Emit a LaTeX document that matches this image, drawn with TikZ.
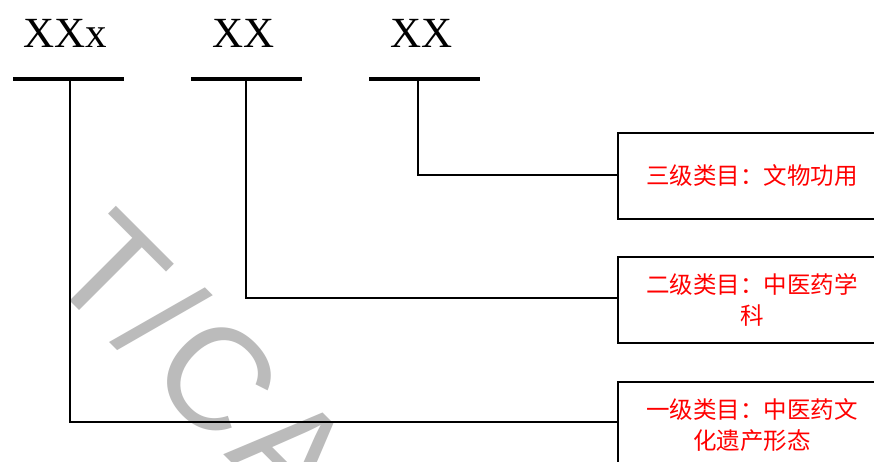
\documentclass[tikz,border=0pt]{standalone}
\usepackage{fontspec}
\setmainfont{Liberation Serif}
\newfontfamily\cjk{Noto Sans CJK SC}
\newfontfamily\wmfont[LetterSpace=5]{Liberation Sans}
\definecolor{wmgray}{RGB}{187,187,187}
\definecolor{txtred}{RGB}{255,0,0}
\tikzset{
  wm/.style={text=wmgray, inner sep=0pt, font=\wmfont\fontsize{145}{145}\selectfont},
  toplabel/.style={inner sep=0pt, anchor=base west, font=\fontsize{43}{43}\selectfont},
  barnode/.style={fill=black, draw=none, inner sep=0pt, minimum width=111pt, minimum height=4pt},
  catbox/.style={draw=black, line width=2pt, minimum width=268pt, minimum height=86pt, inner sep=0pt,
    align=center, text=txtred, font=\cjk\fontsize{23.5}{31}\selectfont},
  link/.style={draw=black, line width=2pt}
}
\begin{document}
\begin{tikzpicture}[x=1pt,y=1pt]
\useasboundingbox (0,0) rectangle (874,-461);
\clip (0,0) rectangle (874,-461);
\fill[white] (0,0) rectangle (874,-461);
% watermark
\node[wm, rotate=-45, anchor=base west] (mark) at (43,-274) {T/CAC};
% top labels
\node[toplabel] (l1) at (23,-47) {XXx};
\node[toplabel] (l2) at (212,-47) {XX};
\node[toplabel] (l3) at (390,-47) {XX};
% bars
\node[barnode] (bar1) at (68.5,-79) {};
\node[barnode] (bar2) at (246.5,-79) {};
\node[barnode] (bar3) at (424.5,-79) {};
% boxes
\node[catbox] (b1) at (752,-176) {三级类目：文物功用};
\node[catbox] (b2) at (752,-300) {二级类目：中医药学\\科};
\node[catbox] (b3) at (752,-425) {一级类目：中医药文\\化遗产形态};
% connectors
\draw[link] ([yshift=1pt]b1.west) -| ([xshift=-6.5pt]bar3.south);
\draw[link] ([yshift=2.5pt]b2.west) -| ([xshift=-1pt]bar2.south);
\draw[link] ([yshift=3pt]b3.west) -| ([xshift=1.5pt]bar1.south);
\end{tikzpicture}
\end{document}
